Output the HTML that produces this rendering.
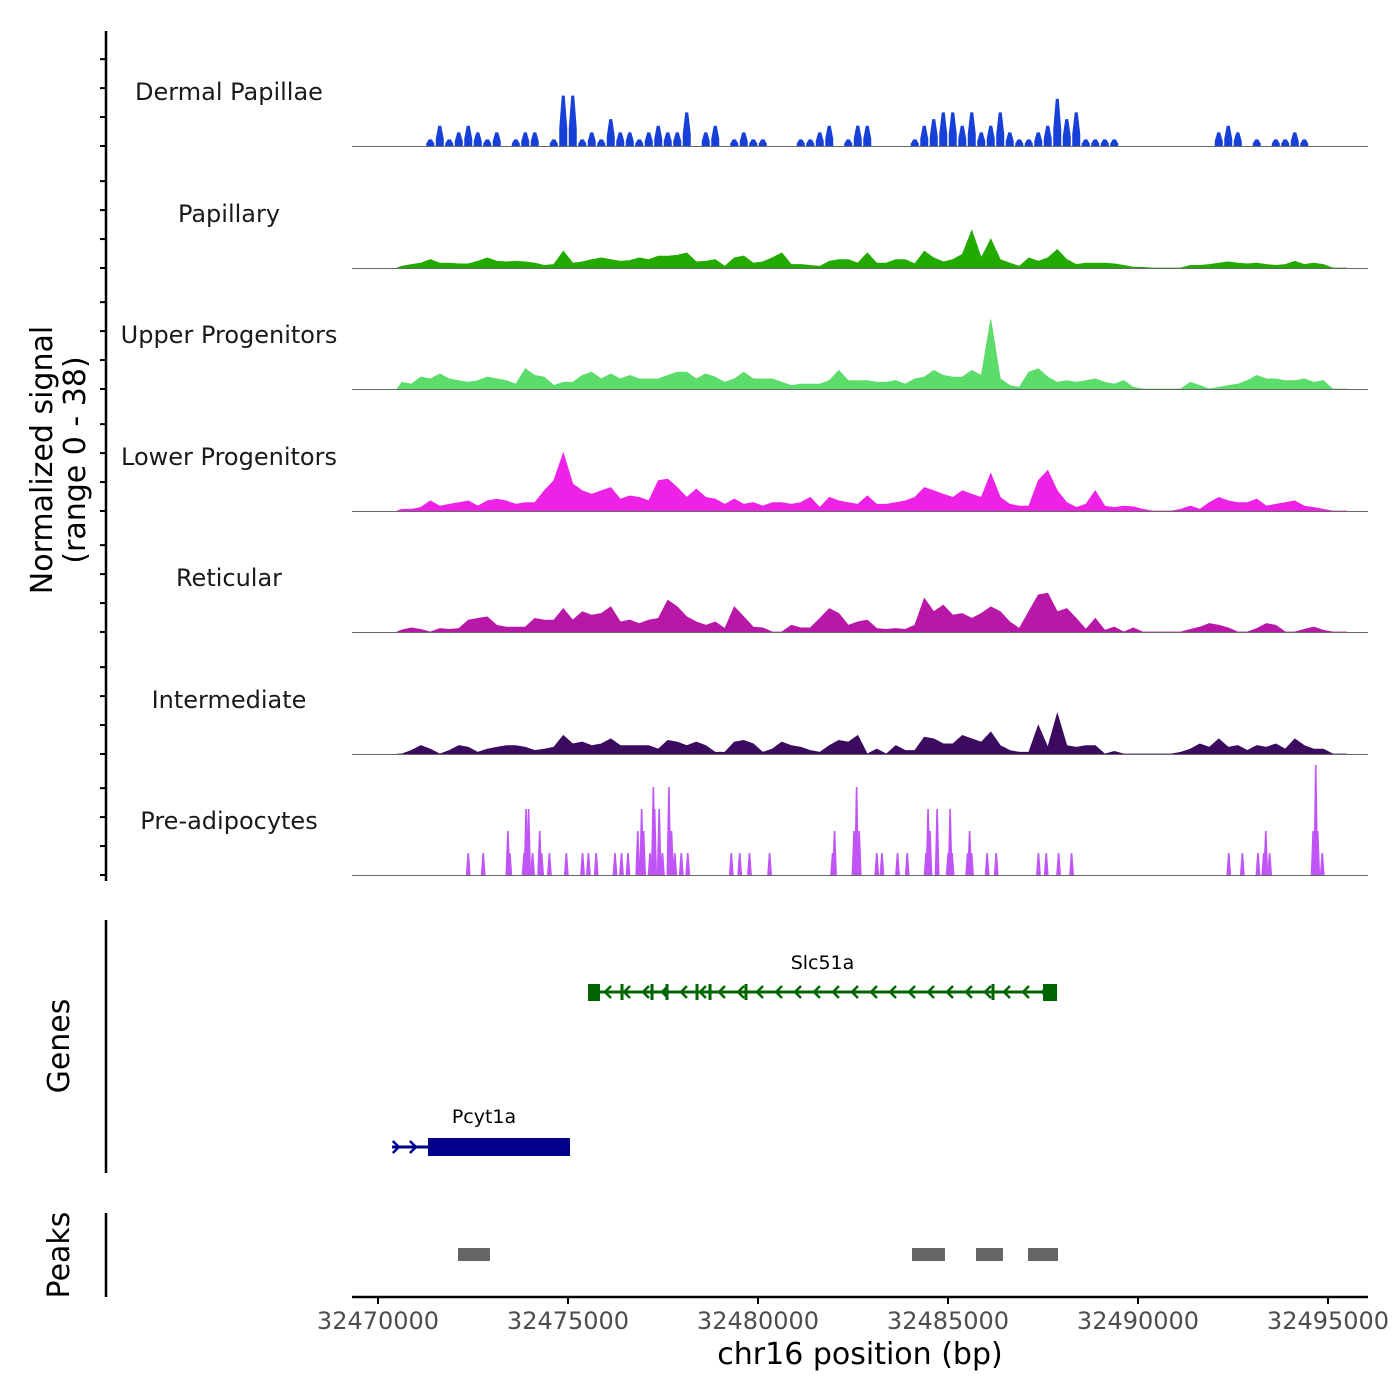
<!DOCTYPE html>
<html><head><meta charset="utf-8"><title>Coverage plot</title>
<style>
html,body{margin:0;padding:0;background:#fff;}
svg{display:block;font-family:"DejaVu Sans","Liberation Sans",sans-serif;}
</style></head>
<body>
<svg id="chart" width="1400" height="1400" viewBox="0 0 1400 1400" xmlns="http://www.w3.org/2000/svg">
  <rect x="0" y="0" width="1400" height="1400" fill="#fff"/>
  <g id="tracks"></g>
  <g id="yaxis"></g>
  <text transform="translate(52,460) rotate(-90)" text-anchor="middle" font-size="30" fill="#000">Normalized signal</text>
  <text transform="translate(85,460) rotate(-90)" text-anchor="middle" font-size="30" fill="#000">(range 0 - 38)</text>
  <g id="genes"></g>
  <line x1="106" y1="920" x2="106" y2="1173" stroke="#000" stroke-width="2.5"/>
  <text transform="translate(69,1046) rotate(-90)" text-anchor="middle" font-size="30" fill="#000">Genes</text>
  <g id="peaks"></g>
  <line x1="106" y1="1213" x2="106" y2="1297" stroke="#000" stroke-width="2.5"/>
  <text transform="translate(69,1255) rotate(-90)" text-anchor="middle" font-size="30" fill="#000">Peaks</text>
  <g id="xaxis"></g>
  <text x="860" y="1364" text-anchor="middle" font-size="30" fill="#000">chr16 position (bp)</text>
</svg>
<script>
// ---- data ----
const binStart = 32470500;
const binSize = 250;
const trackNames = ["Dermal Papillae","Papillary","Upper Progenitors","Lower Progenitors","Reticular","Intermediate","Pre-adipocytes"];
const trackColors = ["#1740d8","#22aa00","#5cdc6a","#ee22e6","#b818a8","#3a0b5f","#c055f7"];
const dermal = [0,0,0,2.3,7,2.3,4.7,7,4.7,2.3, 4.7,0,2.3,4.7,4.7,0,2.3,17.4,17.4,2.3, 4.7,2.3,9.3,4.7,4.7,2.3,4.7,7,4.7,4.7, 11.6,0,4.7,7,0,2.3,4.7,2.3,2.3,0, 0,0,2.3,2.3,4.7,7,0,2.3,7,7, 0,0,0,0,2.3,7,9.3,11.6,11.6,7, 11.6,4.7,7,11.6,4.7,2.3,2.3,4.7,7,16.3, 9.3,11.6,2.3,2.3,2.3,2.3,0,0,0,0, 0,0,0,0,0,0,4.7,7,4.7,0, 2.3,0,2.3,2.3,4.7,2.3,0,0,0,0];
const papillary = [0.6,1.2,1.7,2.9,1.7,1.7,1.4,1.4,2.3,3.5, 2.3,2.1,2.3,2.1,1.7,0.9,1.2,5.8,1.7,2.1, 2.9,3.5,2.9,2.3,2.6,3.5,2.9,4.1,4.1,4.4, 5.2,2.1,2.3,2.9,0.6,3.5,4.1,1.7,2.1,3.5, 5.2,1.2,1.2,0.9,0.6,2.3,2.9,2.9,1.7,5.2, 1.7,1.7,2.9,2.9,1.4,5.8,3.5,2.1,2.9,4.7, 13,3.5,10,2.9,1.7,0.6,3.5,2.3,3.5,6.4, 2.9,1.2,1.7,1.7,1.7,1.4,0.9,0.3,0.2,0, 0,0,0,0.9,0.9,1.2,1.7,2.1,1.7,1.4, 1.7,1.2,0.9,1.2,2.3,1.2,1.7,1.2,0,0];
const upperProg = [2.3,1.7,4.1,3.5,5.2,3.5,2.9,2.3,2.9,4.1, 3.5,2.9,1.7,7,4.7,4.1,1.2,2.3,2.3,4.7, 5.8,3.5,5.2,3.5,4.7,3.5,3.5,3.5,4.7,5.8, 5.8,3.5,5.2,4.1,2.3,3.5,5.8,3.5,3.5,3.5, 2.3,1.2,1.7,1.7,1.7,2.9,6.4,2.9,2.9,2.9, 2.3,2.3,2.9,1.7,3.5,4.1,6.4,4.7,4.1,4.1, 6.4,4.7,24,3.5,1.2,0.6,5.8,7,4.1,2.3, 2.9,2.3,2.9,3.5,2.3,1.7,2.9,0.6,0,0, 0,0,0,2.3,1.2,0,0.6,1.2,1.7,2.9, 4.7,3.5,3.5,2.9,2.9,3.5,2.3,2.9,0,0];
const lowerProg = [0.6,0.6,1.2,3.5,1.7,2.3,2.9,3.5,1.7,3.5, 4.1,3.5,2.3,2.9,2.9,7,10.5,20,9.3,7, 5.8,7,8.1,4.1,5.2,4.7,3.5,10.5,11,8.1, 4.7,7.6,4.7,4.1,2.3,4.1,2.3,2.9,1.7,2.9, 2.9,2.3,2.9,4.7,1.2,4.7,3.5,2.9,2.3,5.2, 2.3,2.3,2.9,3.5,4.7,8.1,7,5.8,4.7,7, 5.8,4.7,13,4.7,2.3,1.7,1.7,10.5,14,7, 2.9,1.2,2.3,7,1.7,1.2,1.7,1.4,0.6,0, 0,0,0.6,1.7,0.6,2.9,4.7,3.5,2.9,2.9, 4.1,1.7,2.3,2.9,3.5,1.7,1.2,0.6,0,0];
const reticular = [0.7,1.4,0.9,0,1.2,0.9,1.2,4.1,4.7,5.2, 2.3,1.7,1.7,1.7,4.7,4.1,4.1,8.1,4.1,7, 5.8,6.4,8.7,3.5,4.1,2.9,4.1,4.7,11,8.7, 5.2,3.5,2.3,3.5,1.2,8.7,5.2,1.7,1.4,0, 0,2.3,1.4,1.4,4.7,8.1,6.4,2.3,3.5,4.1, 1.2,0.9,1.2,0.9,2.3,11.6,7,9.3,5.8,6.4, 4.7,6.4,8.7,7,3.5,1.2,7,12.8,13.4,7, 8.1,4.7,0.9,4.7,0.6,1.7,0,1.4,0,0, 0,0,0,0.9,1.7,2.9,2.3,1.4,0,0, 1.2,2.9,2.3,0,0,0.9,1.7,0.6,0,0];
const intermediate = [0,1.2,2.9,1.7,0,1.2,2.9,2.3,0.6,1.7, 2.3,2.9,2.9,2.3,1.2,1.7,2.3,6.4,3.5,4.1, 2.9,3.5,5.2,2.9,2.9,2.9,2.9,1.7,4.7,4.1, 2.9,4.1,2.9,0.6,0.6,4.1,4.7,3.5,0.6,1.7, 4.1,2.9,2.3,1.2,0.6,2.9,4.7,4.1,6.4,0, 1.7,0,2.9,1.2,1.2,5.8,5.2,3.5,3.5,6.4, 5.2,4.1,7.6,2.9,1.2,0.6,0.6,9.9,2.3,14, 2.9,2.3,2.9,2.9,0,0.9,0,0,0,0, 0,0,0.6,1.7,3.5,2.3,5.2,2.3,2.9,1.2, 2.9,2.3,3.5,1.7,5.2,2.9,1.7,1.7,0,0];
const preadipPos = [32472375,32472768,32473418,32473469,32473845,32473896,32473964,32474067,32474255,32474306,32474511,32474956,32475383,32475537,32475742,32476237,32476408,32476579,32476836,32476938,32476989,32477160,32477246,32477280,32477400,32477485,32477656,32477724,32477810,32477981,32478152,32479297,32479519,32479775,32480305,32481963,32482014,32482527,32482595,32482663,32483125,32483261,32483672,32483928,32484424,32484475,32484526,32484714,32485005,32485056,32485107,32485517,32485569,32485620,32486030,32486269,32487380,32487585,32487910,32488252,32492388,32492746,32493157,32493310,32493362,32493464,32494609,32494678,32494729,32494848];
const preadipVal = [7.6,7.6,15.2,7.6,7.6,22.8,22.8,7.6,15.2,7.6,7.6,7.6,7.6,7.6,7.6,7.6,7.6,7.6,15.2,22.8,15.2,7.6,30.4,22.8,22.8,7.6,30.4,15.2,7.6,7.6,7.6,7.6,7.6,7.6,7.6,7.6,15.2,15.2,30.4,15.2,7.6,7.6,7.6,7.6,7.6,22.8,15.2,22.8,7.6,22.8,7.6,7.6,15.2,7.6,7.6,7.6,7.6,7.6,7.6,7.6,7.6,7.6,7.6,7.6,15.2,7.6,15.2,38,15.2,7.6];
const xTicks = [32470000,32475000,32480000,32485000,32490000,32495000];
const yTickVals = [0,10,20,30];
const geneSlcStart = 32475526, geneSlcEnd = 32487869;
const geneSlcExons = [32476421,32477211,32477605,32478395,32478737,32479684,32486184];
const genePcyStart = 32470369, genePcyBoxStart = 32471316, genePcyEnd = 32475053;
const peakStarts = [32472105,32484053,32485737,32487105];
const peakEnds = [32472947,32484921,32486447,32487895];

// ---- scales ----
const NS = "http://www.w3.org/2000/svg";
function X(bp){ return 378 + (bp - 32470000) * 0.038; }
const yMax = 38, trackPx = 110;
function H(v){ return v / yMax * trackPx; }
const baselines = [146,268,389,511,632,754,875];
function mk(tag, attrs, parent){ const e = document.createElementNS(NS, tag); for (const k in attrs) e.setAttribute(k, attrs[k]); parent.appendChild(e); return e; }

const tracksG = document.getElementById('tracks');
const seriesList = [dermal, papillary, upperProg, lowerProg, reticular, intermediate];
const labelKeys = ["dermal-papillae","papillary","upper-progenitors","lower-progenitors","reticular","intermediate","pre-adipocytes"];

for (let t = 0; t < 7; t++) {
  const b = baselines[t];
  const g = mk('g', {}, tracksG);
  
  
  if (t === 0) {
    const vals = seriesList[t];
    for (let i = 0; i < vals.length; i++) {
      if (vals[i] <= 0) continue;
      const cx = X(binStart + binSize * (i + 0.5));
      const top = b - H(vals[i]);
      const bar = mk('polygon', {points: (cx-4)+','+b+' '+(cx-4)+','+(b-H(vals[i]*0.35))+' '+(cx-1.5)+','+top+' '+(cx+1.5)+','+top+' '+(cx+4)+','+(b-H(vals[i]*0.35))+' '+(cx+4)+','+b, fill: trackColors[t]}, g);
      
      
    }
  } else if (t < 6) {
    const vals = seriesList[t];
    let pts = [[X(binStart), b]];
    for (let i = 0; i < vals.length; i++) {
      const cx = X(binStart + binSize * (i + 0.5));
      pts.push([cx, b - H(vals[i])]);
    }
    pts.push([X(binStart + binSize * vals.length), b]);
    const area = mk('polygon', {points: pts.map(p => p[0].toFixed(1) + ',' + p[1].toFixed(1)).join(' '), fill: trackColors[t], stroke: trackColors[t], 'stroke-width': 0.8}, g);
    
    
  } else {
    for (let i = 0; i < preadipPos.length; i++) {
      const cx = X(preadipPos[i]);
      const top = b - H(preadipVal[i]);
      const sp = mk('polygon', {points: (cx-2.4)+','+b+' '+(cx-0.8)+','+top+' '+(cx+0.8)+','+top+' '+(cx+2.4)+','+b, fill: trackColors[t]}, g);
      
      
    }
  }
  const bl = mk('line', {x1: 352, x2: 1368, y1: b + 0.5, y2: b + 0.5, stroke: '#666', 'stroke-width': 1}, g);
  
  
  const lb = mk('text', {x: 229, y: b - 46, 'text-anchor': 'middle', 'font-size': 24, fill: '#1a1a1a'}, g);
  lb.textContent = trackNames[t];
  
  
}

// y axis
const yG = document.getElementById('yaxis');
const yl = mk('line', {x1: 106, x2: 106, y1: 31, y2: 881, stroke: '#000', 'stroke-width': 2.5}, yG);


for (let t = 0; t < 7; t++) {
  for (const v of yTickVals) {
    const y = baselines[t] - H(v);
    const tk = mk('line', {x1: 100, x2: 106, y1: y, y2: y, stroke: '#000', 'stroke-width': 2}, yG);
    
    
  }
}

// genes
const gG = document.getElementById('genes');
const green = '#006400', navy = '#00008b';
const sl = mk('line', {x1: X(geneSlcStart), x2: X(geneSlcEnd), y1: 992, y2: 992, stroke: green, 'stroke-width': 3}, gG);


for (let bp = geneSlcStart + 500; bp < geneSlcEnd - 300; bp += 500) {
  const cx = X(bp);
  const ch = mk('polyline', {points: (cx+4)+',986 '+(cx-2)+',992 '+(cx+4)+',998', fill: 'none', stroke: green, 'stroke-width': 2.5}, gG);
  
  
}
for (const e of geneSlcExons) {
  const ex = mk('rect', {x: X(e) - 1.5, y: 984, width: 3, height: 16, fill: green}, gG);
  
  
}
const se1 = mk('rect', {x: X(geneSlcStart), y: 984, width: 12, height: 17, fill: green}, gG);


const se2 = mk('rect', {x: X(geneSlcEnd) - 14, y: 984, width: 14, height: 17, fill: green}, gG);


const slt = mk('text', {x: (X(geneSlcStart) + X(geneSlcEnd)) / 2, y: 969, 'text-anchor': 'middle', 'font-size': 19, fill: '#000'}, gG);
slt.textContent = 'Slc51a';



const pl = mk('line', {x1: X(genePcyStart), x2: X(genePcyBoxStart), y1: 1147, y2: 1147, stroke: navy, 'stroke-width': 3}, gG);


for (const bp of [genePcyStart + 100, genePcyStart + 550]) {
  const cx = X(bp);
  const ch = mk('polyline', {points: (cx-3)+',1141 '+(cx+3)+',1147 '+(cx-3)+',1153', fill: 'none', stroke: navy, 'stroke-width': 2.5}, gG);
  
  
}
const pb = mk('rect', {x: X(genePcyBoxStart), y: 1138, width: X(genePcyEnd) - X(genePcyBoxStart), height: 18, fill: navy}, gG);


const plt = mk('text', {x: 484, y: 1123, 'text-anchor': 'middle', 'font-size': 19, fill: '#000'}, gG);
plt.textContent = 'Pcyt1a';



// peaks
const pG = document.getElementById('peaks');
for (let i = 0; i < peakStarts.length; i++) {
  const r = mk('rect', {x: X(peakStarts[i]), y: 1248, width: X(peakEnds[i]) - X(peakStarts[i]), height: 13, fill: '#666'}, pG);
  
  
}

// x axis
const xG = document.getElementById('xaxis');
const xl = mk('line', {x1: 352, x2: 1368, y1: 1297, y2: 1297, stroke: '#000', 'stroke-width': 2.5}, xG);


for (const v of xTicks) {
  const x = X(v);
  const tk = mk('line', {x1: x, x2: x, y1: 1297, y2: 1304, stroke: '#000', 'stroke-width': 2}, xG);
  
  
  const tl = mk('text', {x: x, y: 1329, 'text-anchor': 'middle', 'font-size': 24, fill: '#4d4d4d'}, xG);
  tl.textContent = String(v);
  
  
}
</script>
</body></html>
